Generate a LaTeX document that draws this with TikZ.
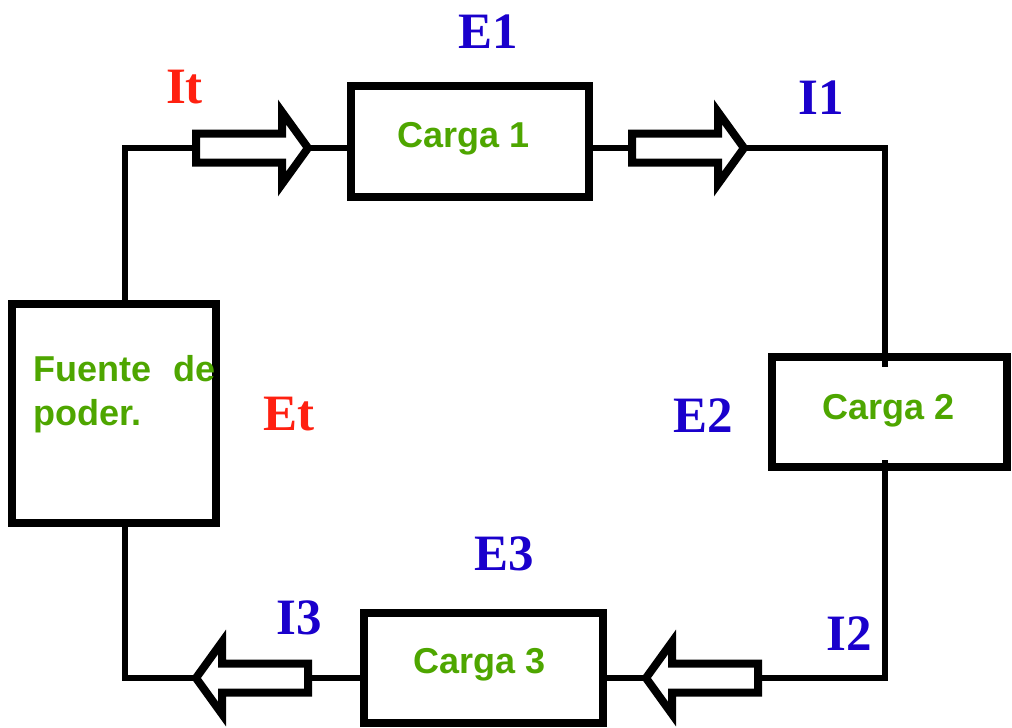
\documentclass[tikz,border=0pt]{standalone}
\usepackage{fontspec}
\setmainfont{Liberation Serif}
\newfontfamily\grfont{Liberation Sans}
\definecolor{lblue}{RGB}{26,0,204}
\definecolor{lred}{RGB}{255,32,16}
\definecolor{lgreen}{RGB}{78,166,0}
\tikzset{
  boxnode/.style={draw=black, line width=8pt, rectangle, inner sep=0pt, outer sep=0pt},
  wire/.style={draw=black, line width=6.5pt, line join=miter},
  arrowline/.style={draw=black, fill=white, line width=8pt, line join=miter, miter limit=10},
  glabel/.style={text=lgreen, font=\grfont\bfseries\fontsize{36}{44}\selectfont, inner sep=0pt, anchor=base},
  slabel/.style={font=\bfseries\fontsize{51}{60}\selectfont, inner sep=0pt, anchor=base},
  barrow/.pic={\path[arrowline] (0,-14.5) -- (86,-14.5) -- (86,-36) -- (112,0) -- (86,36) -- (86,14.5) -- (0,14.5) -- cycle;}
}
\begin{document}
\begin{tikzpicture}[x=1pt,y=-1pt]
\useasboundingbox (0,0) rectangle (1012,728);
% boxes
\node[boxnode, minimum width=238pt, minimum height=111pt] (c1) at (470,141.5) {};
\node[boxnode, minimum width=235pt, minimum height=110pt] (c2) at (889.5,412) {};
\node[boxnode, minimum width=239pt, minimum height=110pt] (c3) at (483.5,668) {};
\node[boxnode, minimum width=204pt, minimum height=219pt] (src) at (114,413.5) {};
% coordinates for arrows and corners
\coordinate (itT) at (196,148);
\coordinate (itH) at (308,148);
\coordinate (i1T) at (632,148);
\coordinate (i1H) at (744,148);
\coordinate (i2T) at (758,678);
\coordinate (i2H) at (646,678);
\coordinate (i3T) at (308,678);
\coordinate (i3H) at (196,678);
\coordinate (cTL) at (125,148);
\coordinate (cTR) at (885,148);
\coordinate (cBR) at (885,678);
\coordinate (cBL) at (125,678);
\coordinate (c2a) at (885,367);
\coordinate (c2b) at (885,460);
% wires
\draw[wire] (cTL |- src.north) -- (cTL) -- (itT);
\draw[wire] (itH) -- (c1.west |- itH);
\draw[wire] (c1.east |- i1T) -- (i1T);
\draw[wire] (i1H) -- (cTR) -- (c2a);
\draw[wire] (c2b) -- (cBR) -- (i2T);
\draw[wire] (i2H) -- (c3.east |- i2H);
\draw[wire] (c3.west |- i3T) -- (i3T);
\draw[wire] (i3H) -- (cBL) -- (cBL |- src.south);
% block arrows
\pic at (itT) {barrow};
\pic at (i1T) {barrow};
\pic[rotate=180] at (i2T) {barrow};
\pic[rotate=180] at (i3T) {barrow};
% green texts
\node[glabel] (t1) at (463.5,147) {Carga 1};
\node[glabel] (t2) at (888.5,419) {Carga 2};
\node[glabel] (t3) at (480,673) {Carga 3};
\node[glabel, anchor=base west] (f1) at (33,381) {\makebox[182pt][s]{Fuente de}};
\node[glabel, anchor=base west] (f2) at (33,425) {poder.};
% serif labels
\node[slabel, text=lblue] (lE1) at (488,48) {E1};
\node[slabel, text=lred] (lIt) at (184.5,103) {It};
\node[slabel, text=lblue] (lI1) at (821.5,114) {I1};
\node[slabel, text=lred] (lEt) at (289,430) {Et};
\node[slabel, text=lblue] (lE2) at (703,432) {E2};
\node[slabel, text=lblue] (lE3) at (504,570) {E3};
\node[slabel, text=lblue] (lI3) at (299.5,634) {I3};
\node[slabel, text=lblue] (lI2) at (849.5,650) {I2};
\end{tikzpicture}
\end{document}
